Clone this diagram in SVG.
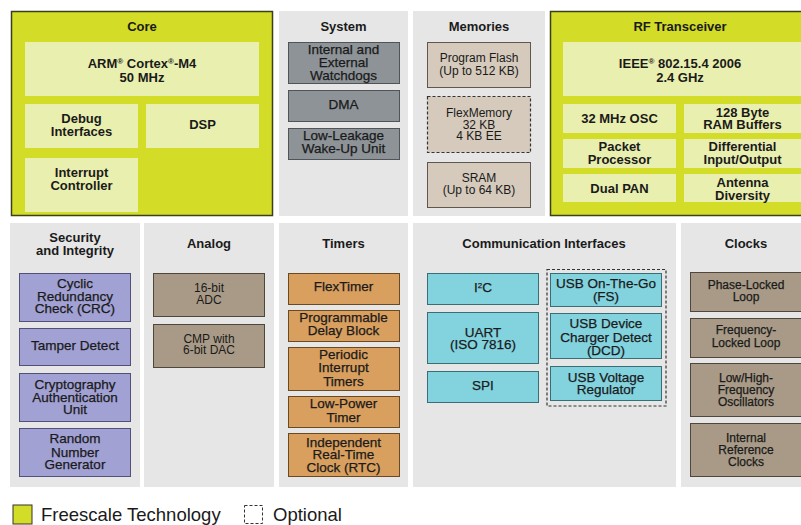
<svg xmlns="http://www.w3.org/2000/svg" width="801" height="525" viewBox="0 0 801 525">
<style>
text{font-family:"Liberation Sans",Arial,sans-serif;fill:#1a1a1a;text-anchor:middle}
.t{font-size:13px;font-weight:bold}
.b{font-size:13px;font-weight:bold}
.m{font-size:13.5px;stroke:#1a1a1a;stroke-width:0.25}
.r{font-size:12px}
.c{font-size:12px;stroke:#1a1a1a;stroke-width:0.25}
.panel{fill:#e6e6e6}
.fsl{fill:#d3dc27;stroke:#3a3f1c;stroke-width:1.5}
.in{fill:#e9efae}
.sys{fill:#8d9397;stroke:#4f5458;stroke-width:1}
.mem{fill:#d5cabc;stroke:#5f574d;stroke-width:1}
.sec{fill:#a1a1d3;stroke:#505078;stroke-width:1}
.ana{fill:#a89a87;stroke:#4f473c;stroke-width:1}
.tim{fill:#d89f5f;stroke:#6a4a22;stroke-width:1}
.com{fill:#83d3df;stroke:#3a6e76;stroke-width:1}
.dash{fill:none;stroke:#333;stroke-width:1.2;stroke-dasharray:3 2}
.leg{font-size:18.5px;text-anchor:start}
.sup{font-size:8px}
</style>
<g id="core">
<rect class="fsl" x="11.5" y="11.5" width="261" height="204"/>
<text class="t" x="142" y="31">Core</text>
<rect class="in" x="25" y="42" width="234" height="54"/>
<text class="b" x="142" y="68">ARM<tspan class="sup" dy="-4">®</tspan><tspan dy="4"> Cortex</tspan><tspan class="sup" dy="-4">®</tspan><tspan dy="4">-M4</tspan></text>
<text class="b" x="142" y="82">50 MHz</text>
<rect class="in" x="25" y="104" width="113" height="44"/>
<text class="b" x="81.5" y="123">Debug</text>
<text class="b" x="81.5" y="136">Interfaces</text>
<rect class="in" x="146" y="104" width="113" height="44"/>
<text class="b" x="202.5" y="129">DSP</text>
<rect class="in" x="25" y="158" width="113" height="54"/>
<text class="b" x="81.5" y="177">Interrupt</text>
<text class="b" x="81.5" y="190">Controller</text>
</g>
<g id="system">
<rect class="panel" x="279" y="11" width="129" height="205"/>
<text class="t" x="343.5" y="31">System</text>
<rect class="sys" x="288.5" y="42.5" width="111" height="41"/>
<text class="m" x="343.5" y="54">Internal and</text>
<text class="m" x="343.5" y="67">External</text>
<text class="m" x="343.5" y="80">Watchdogs</text>
<rect class="sys" x="288.5" y="90.5" width="111" height="31"/>
<text class="m" x="343.5" y="109">DMA</text>
<rect class="sys" x="288.5" y="128.5" width="111" height="31"/>
<text class="m" x="343.5" y="140">Low-Leakage</text>
<text class="m" x="343.5" y="153">Wake-Up Unit</text>
</g>
<g id="memories">
<rect class="panel" x="413" y="11" width="132" height="205"/>
<text class="t" x="479" y="31">Memories</text>
<rect class="mem" x="427.5" y="42.5" width="103" height="45"/>
<text class="r" x="479" y="62">Program Flash</text>
<text class="r" x="479" y="75">(Up to 512 KB)</text>
<rect class="mem" x="427.5" y="96.5" width="103" height="56" style="stroke:none"/>
<rect class="dash" x="427.5" y="96.5" width="103" height="56"/>
<text class="r" x="479" y="117">FlexMemory</text>
<text class="r" x="479" y="128.5">32 KB</text>
<text class="r" x="479" y="140">4 KB EE</text>
<rect class="mem" x="427.5" y="162.5" width="103" height="45"/>
<text class="r" x="479" y="182">SRAM</text>
<text class="r" x="479" y="194">(Up to 64 KB)</text>
</g>
<g id="rf">
<rect class="fsl" x="550.5" y="11.5" width="262" height="204"/>
<text class="t" x="680" y="31">RF Transceiver</text>
<rect class="in" x="563" y="42" width="240" height="54"/>
<text class="b" x="680" y="68">IEEE<tspan class="sup" dy="-4">®</tspan><tspan dy="4"> 802.15.4 2006</tspan></text>
<text class="b" x="680" y="82">2.4 GHz</text>
<rect class="in" x="563" y="104" width="113" height="29"/>
<text class="b" x="619.5" y="123">32 MHz OSC</text>
<rect class="in" x="684" y="104" width="119" height="29"/>
<text class="b" x="742.5" y="117">128 Byte</text>
<text class="b" x="742.5" y="129">RAM Buffers</text>
<rect class="in" x="563" y="139" width="113" height="29"/>
<text class="b" x="619.5" y="151">Packet</text>
<text class="b" x="619.5" y="164">Processor</text>
<rect class="in" x="684" y="139" width="119" height="29"/>
<text class="b" x="742.5" y="151">Differential</text>
<text class="b" x="742.5" y="164">Input/Output</text>
<rect class="in" x="563" y="174" width="113" height="28"/>
<text class="b" x="619.5" y="193">Dual PAN</text>
<rect class="in" x="684" y="174" width="119" height="28"/>
<text class="b" x="742.5" y="187">Antenna</text>
<text class="b" x="742.5" y="200">Diversity</text>
</g>
<g id="security">
<rect class="panel" x="10" y="223" width="130" height="264"/>
<text class="t" x="75" y="242">Security</text>
<text class="t" x="75" y="255">and Integrity</text>
<rect class="sec" x="19.5" y="273.5" width="111" height="48"/>
<text class="m" x="75" y="288">Cyclic</text>
<text class="m" x="75" y="301">Redundancy</text>
<text class="m" x="75" y="313">Check (CRC)</text>
<rect class="sec" x="19.5" y="328.5" width="111" height="37"/>
<text class="m" x="75" y="350">Tamper Detect</text>
<rect class="sec" x="19.5" y="373.5" width="111" height="48"/>
<text class="m" x="75" y="389">Cryptography</text>
<text class="m" x="75" y="402">Authentication</text>
<text class="m" x="75" y="414">Unit</text>
<rect class="sec" x="19.5" y="428.5" width="111" height="48"/>
<text class="m" x="75" y="443">Random</text>
<text class="m" x="75" y="457">Number</text>
<text class="m" x="75" y="469">Generator</text>
</g>
<g id="analog">
<rect class="panel" x="144" y="223" width="130" height="264"/>
<text class="t" x="209" y="248">Analog</text>
<rect class="ana" x="153.5" y="273.5" width="111" height="43"/>
<text class="r" x="209" y="292">16-bit</text>
<text class="r" x="209" y="304">ADC</text>
<rect class="ana" x="153.5" y="324.5" width="111" height="43"/>
<text class="r" x="209" y="343">CMP with</text>
<text class="r" x="209" y="354">6-bit DAC</text>
</g>
<g id="timers">
<rect class="panel" x="279" y="223" width="129" height="264"/>
<text class="t" x="343.5" y="248">Timers</text>
<rect class="tim" x="288.5" y="273.5" width="111" height="31"/>
<text class="m" x="343.5" y="291">FlexTimer</text>
<rect class="tim" x="288.5" y="310.5" width="111" height="31"/>
<text class="m" x="343.5" y="322">Programmable</text>
<text class="m" x="343.5" y="335">Delay Block</text>
<rect class="tim" x="288.5" y="347.5" width="111" height="43"/>
<text class="m" x="343.5" y="359">Periodic</text>
<text class="m" x="343.5" y="372">Interrupt</text>
<text class="m" x="343.5" y="386">Timers</text>
<rect class="tim" x="288.5" y="396.5" width="111" height="31"/>
<text class="m" x="343.5" y="408">Low-Power</text>
<text class="m" x="343.5" y="422">Timer</text>
<rect class="tim" x="288.5" y="433.5" width="111" height="43"/>
<text class="m" x="343.5" y="447">Independent</text>
<text class="m" x="343.5" y="459">Real-Time</text>
<text class="m" x="343.5" y="472">Clock (RTC)</text>
</g>
<g id="comm">
<rect class="panel" x="413" y="223" width="263" height="264"/>
<text class="t" x="544" y="248">Communication Interfaces</text>
<rect class="com" x="427.5" y="273.5" width="111" height="31"/>
<text class="m" x="483" y="292">I<tspan class="sup" dy="-4">2</tspan><tspan dy="4">C</tspan></text>
<rect class="com" x="427.5" y="312.5" width="111" height="51"/>
<text class="m" x="483" y="337">UART</text>
<text class="m" x="483" y="349">(ISO 7816)</text>
<rect class="com" x="427.5" y="371.5" width="111" height="31"/>
<text class="m" x="483" y="390">SPI</text>
<rect class="dash" x="547" y="269.5" width="119" height="136.5"/>
<rect class="com" x="550.5" y="273.5" width="111" height="33"/>
<text class="m" x="606" y="288">USB On-The-Go</text>
<text class="m" x="606" y="301">(FS)</text>
<rect class="com" x="550.5" y="313.5" width="111" height="45"/>
<text class="m" x="606" y="328">USB Device</text>
<text class="m" x="606" y="342">Charger Detect</text>
<text class="m" x="606" y="355">(DCD)</text>
<rect class="com" x="550.5" y="366.5" width="111" height="34"/>
<text class="m" x="606" y="382">USB Voltage</text>
<text class="m" x="606" y="394">Regulator</text>
</g>
<g id="clocks">
<rect class="panel" x="681" y="223" width="130" height="264"/>
<text class="t" x="746" y="248">Clocks</text>
<rect class="ana" x="690.5" y="272.5" width="120" height="39"/>
<text class="c" x="746" y="289">Phase-Locked</text>
<text class="c" x="746" y="301">Loop</text>
<rect class="ana" x="690.5" y="318.5" width="120" height="39"/>
<text class="c" x="746" y="334">Frequency-</text>
<text class="c" x="746" y="347">Locked Loop</text>
<rect class="ana" x="690.5" y="363.5" width="120" height="53"/>
<text class="c" x="746" y="382">Low/High-</text>
<text class="c" x="746" y="394">Frequency</text>
<text class="c" x="746" y="406">Oscillators</text>
<rect class="ana" x="690.5" y="423.5" width="120" height="53"/>
<text class="c" x="746" y="442">Internal</text>
<text class="c" x="746" y="454">Reference</text>
<text class="c" x="746" y="466">Clocks</text>
</g>
<g id="connectors"></g>
<g id="legend">
<rect class="fsl" x="13" y="505" width="19" height="19" style="stroke:#333;stroke-width:1"/>
<text class="leg" x="41" y="521">Freescale Technology</text>
<rect x="244.5" y="505.5" width="18" height="18" fill="none" stroke="#333" stroke-width="1" stroke-dasharray="3 2"/>
<text class="leg" x="273" y="521">Optional</text>
</g>
</svg>
